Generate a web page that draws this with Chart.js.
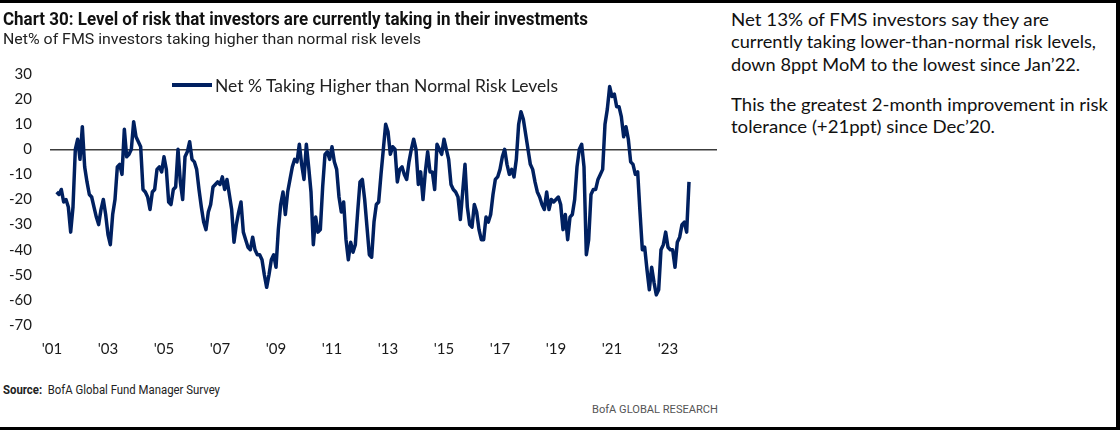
<!DOCTYPE html>
<html>
<head>
<meta charset="utf-8">
<script src="https://cdn.jsdelivr.net/npm/chart.js@4.4.1/dist/chart.umd.min.js"></script>
<style>
  body { margin: 0; background: #fff; }
  #page { position: relative; width: 1120px; height: 430px; background: #fff; overflow: hidden; font-family: Lato, "Noto Sans", sans-serif; color: #1a1a1a; }
  .abs { position: absolute; white-space: nowrap; line-height: 1; transform-origin: 0 0; }
  .bar { position: absolute; background: #000; }
  #title { left: 3px; top: 8px; font: bold 18px "Liberation Sans Narrow", Roboto, sans-serif; color: #111; }
  #subtitle { left: 3px; top: 30px; font: 15px "Liberation Sans Narrow", Roboto, sans-serif; color: #222; }
  .note { left: 731px; font-size: 17.5px; color: #111; }
  #legend { left: 172px; top: 77px; font-size: 17px; color: #222; }
  #legend i { position: absolute; left: 0; top: 6px; width: 40px; height: 4px; background: #002060; }
  #legend span { position: absolute; left: 43px; top: 0; }
  #source { left: 3px; top: 383px; font: 12px "Liberation Sans Narrow", Roboto, sans-serif; color: #222; }
  #brand { left: 592px; top: 403px; font: 11px "Liberation Sans Narrow", Roboto, sans-serif; color: #555; }
  #chartBox { position: absolute; left: 0; top: 0; width: 720px; height: 380px; }
</style>
</head>
<body>
<div id="page">
  <div class="bar" style="left:0;top:0;width:1120px;height:3px"></div>
  <div class="bar" style="left:1116px;top:0;width:4px;height:430px"></div>
  <div class="bar" style="left:0;top:427px;width:1120px;height:3px"></div>

  <div id="chartBox"><canvas id="riskchart" width="720" height="380"></canvas></div>

  <div id="title" class="abs" data-w="585">Chart 30: Level of risk that investors are currently taking in their investments</div>
  <div id="subtitle" class="abs" data-w="418">Net% of FMS investors taking higher than normal risk levels</div>

  <div id="legend" class="abs"><i></i><span class="abs" data-w="343">Net % Taking Higher than Normal Risk Levels</span></div>

  <div class="abs note" style="top:10.5px" data-w="318">Net 13% of FMS investors say they are</div>
  <div class="abs note" style="top:33px" data-w="365">currently taking lower-than-normal risk levels,</div>
  <div class="abs note" style="top:55.5px" data-w="349">down 8ppt MoM to the lowest since Jan’22.</div>
  <div class="abs note" style="top:95.5px" data-w="377">This the greatest 2-month improvement in risk</div>
  <div class="abs note" style="top:118px" data-w="264">tolerance (+21ppt) since Dec’20.</div>

  <div id="source" class="abs" data-w="217"><b>Source:</b>&nbsp; BofA Global Fund Manager Survey</div>
  <div id="brand" class="abs" data-w="126">BofA GLOBAL RESEARCH</div>
</div>

<script>
// monthly survey readings, Mar 2001 .. Oct 2023
const firstYear = 2001;
const firstMonth = 3;
const netRisk = [
  -17, -18, -16, -21, -20, -23, -33, -23, 0, 4,                 // 2001
  -4, 9, -7, -13, -18, -19, -23, -27, -30, -24, -20, -26,       // 2002
  -34, -38, -26, -20, -7, -6, -10, 8, -3, -2, 0, 11,            // 2003
  5, 3, 1, -16, -17, -19, -24, -17, -16, -8, -7, -9,            // 2004
  -3, -8, -21, -22, -16, -15, 0, -13, -20, -3, -1, 3,           // 2005
  -4, -5, -8, -16, -23, -29, -32, -25, -22, -15, -14, -13,      // 2006
  -14, -11, -16, -12, -18, -24, -37, -30, -25, -21, -33, -36,   // 2007
  -39, -40, -35, -40, -42, -42, -44, -50, -55, -50, -44, -42,   // 2008
  -47, -32, -22, -17, -26, -17, -12, -7, -4, -5, 2, -6,         // 2009
  -12, 2, -7, -17, -38, -27, -33, -32, -15, -2, -1, -4,         // 2010
  1, -5, -8, -19, -25, -21, -36, -44, -37, -41, -38, -25,       // 2011
  -13, -12, -20, -31, -42, -43, -29, -22, -21, -10, 0, 10,      // 2012
  7, -2, 1, 0, -13, -8, -7, -10, -12, -5, 0, 4,                 // 2013
  0, -14, -9, -20, -9, -1, -9, -9, -16, 2, 0, -2,               // 2014
  4, 0, -4, -14, -16, -17, -19, -28, -17, -6, -23, -30,         // 2015
  -31, -22, -25, -32, -36, -36, -27, -29, -26, -18, -12, -11,   // 2016
  -8, -3, 0, -6, -10, -8, -11, -4, 10, 15, 12, 6,               // 2017
  0, -6, -8, -13, -17, -19, -22, -24, -17, -24, -20, -21,       // 2018
  -20, -19, -22, -32, -26, -36, -27, -26, -20, -7, 0, 2,        // 2019
  -7, -42, -36, -18, -16, -16, -12, -10, -8, 10, 16, 25,        // 2020
  21, 22, 17, 17, 13, 5, 9, 4, -5, -6, -10, -9,                 // 2021
  -25, -40, -39, -48, -56, -47, -53, -58, -56, -40, -38, -33,   // 2022
  -39, -40, -40, -47, -37, -35, -30, -29, -33, -13              // 2023
];
const tickYears = [2001, 2003, 2005, 2007, 2009, 2011, 2013, 2015, 2017, 2019, 2021, 2023];
const tickLabels = ["'01", "'03", "'05", "'07", "'09", "'11", "'13", "'15", "'17", "'19", "'21", "'23"];

// months counted from Jan of firstYear
const startIdx = firstMonth - 1;
const points = netRisk.map((v, i) => ({ x: startIdx + i, y: v }));

const axisFont = { family: 'Lato, "Noto Sans", sans-serif', size: 15 };

const ctx = document.getElementById('riskchart').getContext('2d');
const riskChart = new Chart(ctx, {
    type: 'line',
    data: {
        datasets: [{
            label: 'Net % Taking Higher than Normal Risk Levels',
            data: points,
            borderColor: '#002060',
            borderWidth: 3.5,
            borderJoinStyle: 'round',
            pointRadius: 0,
            fill: false,
            tension: 0
        }]
    },
    options: {
        responsive: false,
        animation: false,
        layout: { padding: { top: 74, right: 3, left: 0, bottom: 0 } },
        plugins: { legend: { display: false }, tooltip: { enabled: false } },
        scales: {
            x: {
                type: 'linear',
                min: -12 / 14,       // '01 label sits 2px right of the plot edge
                max: 285.0,
                afterBuildTicks: (scale) => {
                    scale.ticks = tickYears.map(y => ({ value: (y - firstYear) * 12 }));
                },
                afterFit: (scale) => { scale.height = 55; },
                ticks: {
                    autoSkip: false,
                    maxRotation: 0,
                    padding: 15,
                    color: '#1a1a1a',
                    font: axisFont,
                    callback: (v, i) => tickLabels[i]
                },
                grid: { display: false, drawTicks: false },
                border: { display: false }
            },
            y: {
                min: -70,
                max: 30,
                afterFit: (scale) => { scale.width = 50; },
                ticks: {
                    stepSize: 10,
                    padding: 18,
                    color: '#1a1a1a',
                    font: axisFont
                },
                grid: {
                    drawTicks: false,
                    lineWidth: 1.5,
                    color: (c) => (c.tick && c.tick.value === 0) ? '#3c3c3c' : 'rgba(0,0,0,0)'
                },
                border: { display: false }
            }
        }
    }
});

// squeeze text blocks to the widths measured on the reference
function fitText() {
    document.querySelectorAll('[data-w]').forEach(el => {
        el.style.transform = 'none';
        const w = el.getBoundingClientRect().width;
        const target = parseFloat(el.dataset.w);
        if (w > 0) el.style.transform = 'scaleX(' + (target / w).toFixed(4) + ')';
    });
}
fitText();
if (document.fonts && document.fonts.ready) document.fonts.ready.then(fitText);
</script>
</body>
</html>
